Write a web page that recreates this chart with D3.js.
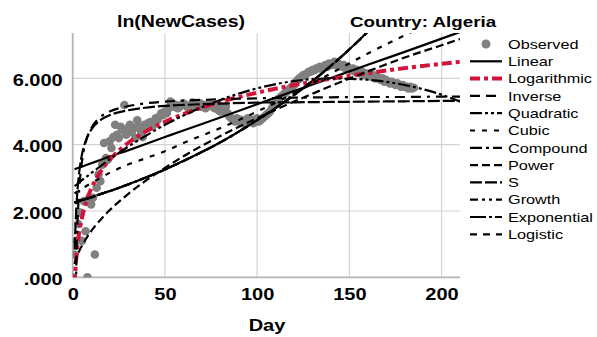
<!DOCTYPE html>
<html>
<head>
<meta charset="utf-8">
<script src="https://cdn.jsdelivr.net/npm/d3@7"></script>
<style>
  body { margin: 0; background: #fff; }
  text { font-family: "Liberation Sans", Arial, sans-serif; }
</style>
</head>
<body>
<svg id="chart" width="597" height="337"></svg>
<script>
// observed ln(new cases), one value per day starting at day 0
const obsVals = [0, 0.69, 1.1, 1.61, 1.95, 1.1, 2.3, 1.39, 0, 2.4, 2.2, 2.4, 0.69, 2.7, 3.1, 2.9, 3.4, 4.05, 3.6, 3.55,
  4.1, 3.9, 4.23, 4.6, 4.3, 4.2, 4.54, 4.45, 5.2, 4.3, 4.5, 4.6, 4.38, 4.5, 4.2, 4.74, 4.55, 4.4, 4.23, 4.6,
  4.5, 4.65, 4.68, 4.55, 4.7, 4.8, 4.75, 4.85, 4.95, 4.9, 5.0, 4.95, 5.1, 5.3, 5.25, 5.15, 5.2, 5.1, 5.15, 5.2,
  5.25, 5.2, 5.15, 5.1, 5.2, 5.27, 5.2, 5.15, 5.2, 5.25, 5.15, 5.2, 5.1, 5.15, 5.25, 5.2, 5.15, 5.1, 5.2, 5.05,
  5.0, 5.1, 5.0, 5.15, 4.95, 4.85, 4.8, 4.75, 4.7, 4.8, 4.7, 4.75, 4.65, 4.7, 4.75, 4.8, 4.7, 4.75, 4.65, 4.75,
  4.8, 4.7, 4.75, 4.8, 4.85, 4.9, 4.95, 5.0, 5.1, 5.2, 5.25, 5.3, 5.4, 5.45, 5.5, 5.55, 5.6, 5.65, 5.7, 5.75,
  5.8, 5.9, 5.95, 6.0, 6.05, 6.1, 6.1, 6.15, 6.2, 6.2, 6.25, 6.25, 6.3, 6.3, 6.35, 6.3, 6.35, 6.4, 6.35, 6.45,
  6.4, 6.45, 6.5, 6.4, 6.45, 6.4, 6.35, 6.4, 6.3, 6.35, 6.3, 6.25, 6.3, 6.2, 6.25, 6.2, 6.15, 6.2, 6.1, 6.15,
  6.1, 6.15, 6.05, 6.1, 6.0, 6.05, 6.0, 5.95, 6.0, 5.9, 5.95, 5.9, 5.85, 5.9, 5.85, 5.8, 5.85, 5.8, 5.75, 5.8,
  5.75, 5.75, 5.7, 5.75, 5.7, 5.72];

const fitDays = [1, 2, 3, 4, 5, 7, 10, 15, 20, 30, 40, 50, 60, 80, 100, 120, 140, 160, 180, 200, 210];

const linearFit = [3.26, 3.28, 3.30, 3.32, 3.34, 3.38, 3.44, 3.54, 3.64, 3.83, 4.03, 4.23, 4.43, 4.82, 5.22, 5.62, 6.01, 6.41, 6.80, 7.20, 7.40];
const logFit = [-0.23, 0.64, 1.15, 1.51, 1.79, 2.22, 2.67, 3.18, 3.54, 4.05, 4.41, 4.69, 4.92, 5.29, 5.57, 5.80, 5.99, 6.16, 6.31, 6.44, 6.50];
const inverseFit = [-4.6, 0.45, 2.13, 2.98, 3.48, 4.06, 4.49, 4.83, 5.0, 5.16, 5.25, 5.3, 5.33, 5.37, 5.4, 5.42, 5.43, 5.44, 5.44, 5.45, 5.45];
const quadFit = [2.75, 2.79, 2.84, 2.88, 2.93, 3.01, 3.14, 3.35, 3.56, 3.94, 4.28, 4.6, 4.88, 5.35, 5.7, 5.92, 6.0, 5.96, 5.80, 5.51, 5.30];
const cubicFit = [2.53, 2.57, 2.6, 2.64, 2.67, 2.74, 2.84, 3.0, 3.15, 3.4, 3.6, 3.8, 4.05, 4.5, 5.0, 5.55, 6.15, 6.75, 7.3, 7.85, 8.1];
const powerFit = [0.40, 0.58, 0.72, 0.85, 0.95, 1.14, 1.39, 1.73, 2.02, 2.51, 2.93, 3.30, 3.65, 4.26, 4.80, 5.30, 5.77, 6.21, 6.63, 7.0, 7.19];
const sFit = [0.84, 2.12, 2.89, 3.37, 3.70, 4.11, 4.45, 4.74, 4.89, 5.04, 5.12, 5.17, 5.20, 5.24, 5.27, 5.28, 5.29, 5.30, 5.31, 5.32, 5.32];
// compound, growth, exponential and logistic all give the same curve here
const expFit = [2.26, 2.27, 2.29, 2.31, 2.33, 2.36, 2.41, 2.51, 2.60, 2.80, 3.02, 3.25, 3.51, 4.07, 4.74, 5.50, 6.38, 7.41, 8.6, 10.0, 10.8];

const xTicks = [0, 50, 100, 150, 200];
const yTicks = [0, 2, 4, 6];

const models = [
  {name: 'Linear', vals: linearFit, color: '#000', w: 2.2, dash: null},
  {name: 'Logarithmic', vals: logFit, color: '#d2143a', w: 4, dash: '10,4,4,4'},
  {name: 'Inverse', vals: inverseFit, color: '#000', w: 2.2, dash: '10,6,10,6,3,6'},
  {name: 'Quadratic', vals: quadFit, color: '#000', w: 2.2, dash: '12,3,3,3,3,3'},
  {name: 'Cubic', vals: cubicFit, color: '#000', w: 2.2, dash: '5,7'},
  {name: 'Compound', vals: expFit, color: '#000', w: 2.2, dash: '12,4,3,4'},
  {name: 'Power', vals: powerFit, color: '#000', w: 2.2, dash: '8,4'},
  {name: 'S', vals: sFit, color: '#000', w: 2.2, dash: '12,3'},
  {name: 'Growth', vals: expFit, color: '#000', w: 2.2, dash: '8,4,3,4,3,4'},
  {name: 'Exponential', vals: expFit, color: '#000', w: 2.2, dash: '16,3,3,3'},
  {name: 'Logistic', vals: expFit, color: '#000', w: 2.2, dash: '7,6'}
];

const svg = d3.select('#chart');
const pLeft = 72.7, pRight = 460, pTop = 33, pBottom = 277.3;

const x = d3.scaleLinear().domain([0, 210]).range([pLeft, pRight]);
const y = d3.scaleLinear().domain([0, 7.37]).range([pBottom, pTop]);

function stretch(sel, k) {
  sel.each(function () {
    const w = this.getComputedTextLength();
    d3.select(this).attr('textLength', w * k).attr('lengthAdjust', 'spacingAndGlyphs');
  });
}

// grid
svg.append('g').selectAll('line').data(xTicks.slice(1)).enter().append('line')
  .attr('x1', d => x(d)).attr('x2', d => x(d)).attr('y1', pTop).attr('y2', pBottom)
  .attr('stroke', '#d4d4d4').attr('stroke-width', 1.2);
svg.append('g').selectAll('line').data(yTicks.slice(1)).enter().append('line')
  .attr('x1', pLeft).attr('x2', pRight).attr('y1', d => y(d)).attr('y2', d => y(d))
  .attr('stroke', '#d4d4d4').attr('stroke-width', 1.2);

// axes
const xAxis = svg.append('g').attr('transform', `translate(0,${pBottom})`)
  .call(d3.axisBottom(x).tickValues(xTicks).tickSize(0).tickPadding(11));
const yAxis = svg.append('g').attr('transform', `translate(${pLeft},0)`)
  .call(d3.axisLeft(y).tickValues(yTicks).tickSize(0).tickPadding(10).tickFormat(d => d3.format('.3f')(d).replace(/^0/, '')));
[xAxis, yAxis].forEach(a => {
  a.select('.domain').attr('stroke', '#b4b4b4').attr('stroke-width', 1.8);
  a.selectAll('text').attr('font-size', 16).attr('font-weight', 'bold').attr('fill', '#000')
    .attr('font-family', '"Liberation Sans", Arial, sans-serif');
});
xAxis.select('.domain').attr('d', `M${pLeft},0H${pRight}`);
yAxis.select('.domain').attr('d', `M0,${pBottom}V${pTop}`);
yAxis.selectAll('text').attr('dy', '0.45em');
stretch(xAxis.selectAll('text'), 1.25);
stretch(yAxis.selectAll('text'), 1.25);

// clip
svg.append('clipPath').attr('id', 'plot').append('rect')
  .attr('x', pLeft).attr('y', pTop).attr('width', pRight - pLeft).attr('height', pBottom - pTop);

// observed points
svg.append('g').attr('clip-path', 'url(#plot)')
  .selectAll('circle').data(obsVals).enter().append('circle')
  .attr('cx', (d, i) => x(i)).attr('cy', d => y(d)).attr('r', 4.3)
  .attr('fill', '#808080');

// fitted curves
const line = d3.line().x(d => x(d[0])).y(d => y(d[1])).curve(d3.curveMonotoneX);
const curves = svg.append('g').attr('clip-path', 'url(#plot)');
models.forEach(m => {
  curves.append('path')
    .datum(fitDays.map((d, i) => [d, m.vals[i]]))
    .attr('d', line)
    .attr('fill', 'none')
    .attr('stroke', m.color)
    .attr('stroke-width', m.w)
    .attr('stroke-dasharray', m.dash);
});

// titles
const t1 = svg.append('text').attr('x', 181).attr('y', 27).attr('text-anchor', 'middle')
  .attr('font-size', 16).attr('font-weight', 'bold').text('ln(NewCases)');
const t2 = svg.append('text').attr('x', 423).attr('y', 27).attr('text-anchor', 'middle')
  .attr('font-size', 15).attr('font-weight', 'bold').text('Country: Algeria');
const t3 = svg.append('text').attr('x', 267).attr('y', 331).attr('text-anchor', 'middle')
  .attr('font-size', 16).attr('font-weight', 'bold').text('Day');
stretch(t1, 1.22);
stretch(t2, 1.25);
stretch(t3, 1.25);

// legend
const legendNames = ['Observed'].concat(models.map(m => m.name));
const lg = svg.append('g');
legendNames.forEach((name, i) => {
  const ly = 44 + i * 17.3;
  if (i === 0) {
    lg.append('circle').attr('cx', 486).attr('cy', ly).attr('r', 4.5).attr('fill', '#808080');
  } else {
    const m = models[i - 1];
    lg.append('line').attr('x1', 470).attr('x2', 502).attr('y1', ly).attr('y2', ly)
      .attr('stroke', m.color).attr('stroke-width', m.w).attr('stroke-dasharray', m.dash);
  }
  const t = lg.append('text').attr('x', 508).attr('y', ly + 4.7).attr('font-size', 13).text(name);
  stretch(t, 1.25);
});
</script>
</body>
</html>
